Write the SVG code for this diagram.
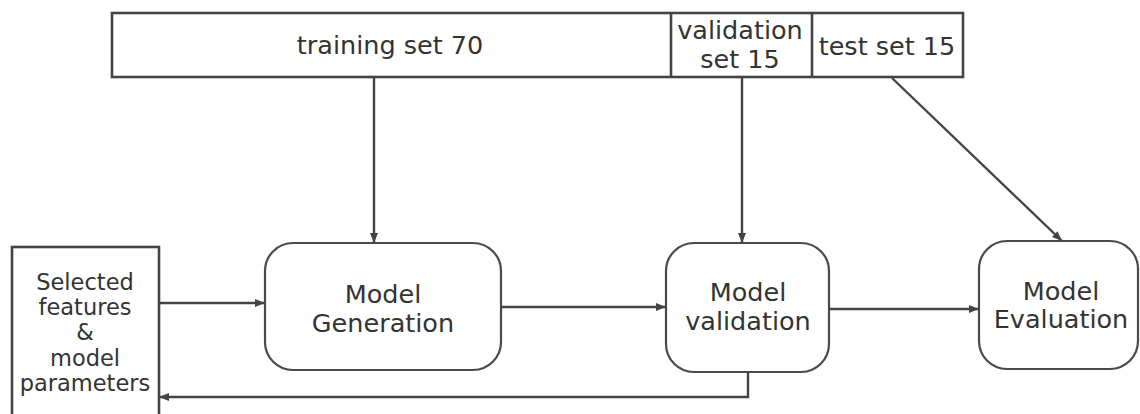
<svg xmlns="http://www.w3.org/2000/svg" width="1140" height="414" viewBox="0 0 1140 414">
<defs>
<style>
text{font-family:"DejaVu Sans","Verdana",sans-serif;font-size:25.5px;fill:#333;text-anchor:middle}
.sm{font-size:22.5px}
.box{fill:#fff;stroke:#444;stroke-width:2.6}
.rbox{fill:#fff;stroke:#4a4a4a;stroke-width:2.2}
.conn{fill:none;stroke:#444;stroke-width:2.4}
</style>
<marker id="ah" viewBox="0 0 10 10" refX="10" refY="5" markerWidth="10" markerHeight="10" markerUnits="userSpaceOnUse" orient="auto">
<path d="M0,1 L10,5 L0,9 z" fill="#444"/>
</marker>
</defs>
<rect width="1140" height="414" fill="#fff"/>
<g id="datasplit">
<rect class="box" x="112" y="13" width="851" height="64"/>
<line class="box" x1="671" y1="13" x2="671" y2="77"/>
<line class="box" x1="812" y1="13" x2="812" y2="77"/>
<text x="390" y="54">training set 70</text>
<text x="740" y="39">validation</text>
<text x="740" y="68">set 15</text>
<text x="887" y="55">test set 15</text>
</g>
<g id="features">
<rect class="box" x="12" y="247" width="147" height="180"/>
<text class="sm" x="85" y="290">Selected</text>
<text class="sm" x="85" y="315">features</text>
<text class="sm" x="85" y="340">&amp;</text>
<text class="sm" x="85" y="366">model</text>
<text class="sm" x="85" y="391">parameters</text>
</g>
<g id="generation">
<rect class="rbox" x="265" y="243" width="236" height="127" rx="28"/>
<text x="383" y="303">Model</text>
<text x="383" y="332">Generation</text>
</g>
<g id="validation">
<rect class="rbox" x="666" y="243" width="163" height="129" rx="28"/>
<text x="748" y="301">Model</text>
<text x="748" y="330">validation</text>
</g>
<g id="evaluation">
<rect class="rbox" x="979" y="241" width="159" height="128" rx="28"/>
<text x="1061" y="300">Model</text>
<text x="1061" y="328">Evaluation</text>
</g>
<g id="connectors">
<line class="conn" x1="374" y1="77" x2="374" y2="243" marker-end="url(#ah)"/>
<line class="conn" x1="742" y1="77" x2="742" y2="243" marker-end="url(#ah)"/>
<line class="conn" x1="892" y1="78" x2="1062" y2="241" marker-end="url(#ah)"/>
<line class="conn" x1="159" y1="303" x2="265" y2="303" marker-end="url(#ah)"/>
<line class="conn" x1="501" y1="307" x2="666" y2="307" marker-end="url(#ah)"/>
<line class="conn" x1="829" y1="309" x2="979" y2="309" marker-end="url(#ah)"/>
<polyline class="conn" points="748,372 748,397 159,397" marker-end="url(#ah)"/>
</g>
</svg>
